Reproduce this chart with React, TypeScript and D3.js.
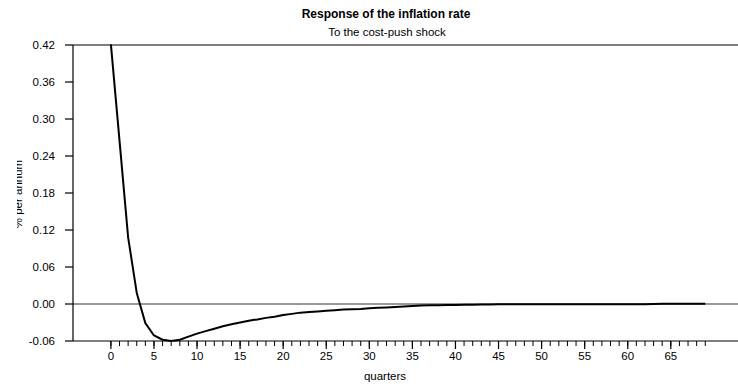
import React from "react";
import * as d3 from "d3";

// Impulse response of inflation to a cost-push shock (quarters 0..69)
const quarters: number[] = Array.from({ length: 70 }, (_, i) => i);
const response: number[] = [
  0.421, 0.265, 0.108, 0.018, -0.031, -0.051, -0.058, -0.06, -0.058, -0.053,
  -0.048, -0.044, -0.04, -0.036, -0.033, -0.03, -0.027, -0.025, -0.0225, -0.0205,
  -0.018, -0.016, -0.014, -0.013, -0.012, -0.011, -0.01, -0.009, -0.0085, -0.008,
  -0.007, -0.0062, -0.0055, -0.0048, -0.004, -0.0032, -0.0026, -0.0021, -0.0019, -0.0017,
  -0.0015, -0.0013, -0.0012, -0.001, -0.0009, -0.0006, -0.0005, -0.0005, -0.0005, -0.0005,
  -0.0005, -0.0005, -0.0005, -0.0005, -0.0005, -0.0005, -0.0005, -0.0005, -0.0005, -0.0005,
  -0.0005, -0.0005, -0.0004, 0.0002, 0.0003, 0.0003, 0.0003, 0.0003, 0.0003, 0.0003,
];
const yTicks: number[] = [0.42, 0.36, 0.3, 0.24, 0.18, 0.12, 0.06, 0.0, -0.06];
const xMajorTicks: number[] = d3.range(0, 70, 5);
const xMinorTicks: number[] = d3.range(0, 70, 1);

const title = "Response of the inflation rate";
const subtitle = "To the cost-push shock";
const xLabel = "quarters";
const yLabel = "% per annum";

const W = 738;
const H = 387;
const left = 73;
const right = 738;
const top = 45;
const bottom = 341;

export default function App() {
  const x = d3.scaleLinear().domain([-4.4, 72.8]).range([left, right]);
  const y = d3.scaleLinear().domain([-0.06, 0.42]).range([bottom, top]);
  const line = d3
    .line<number>()
    .x((_, i) => x(quarters[i]))
    .y((d) => y(d));
  const font = "'Liberation Sans', Arial, sans-serif";

  return (
    <svg
      width={W}
      height={H}
      style={{ position: "absolute", left: 0, top: 0, background: "#fff" }}
      fontFamily={font}
    >
      <defs>
        <clipPath id="plot">
          <rect x={left} y={top - 1} width={right - left} height={bottom - top + 2} />
        </clipPath>
        <clipPath id="ylab">
          <rect x={17} y={0} width={40} height={H} />
        </clipPath>
      </defs>
      <rect x={0} y={0} width={W} height={H} fill="#fff" />

      <text x={386} y={18} textAnchor="middle" fontSize={12} fontWeight="bold" fill="#000">
        {title}
      </text>
      <text x={387} y={36} textAnchor="middle" fontSize={11.5} fill="#000">
        {subtitle}
      </text>

      {/* zero reference line */}
      <line x1={left} x2={right} y1={y(0)} y2={y(0)} stroke="#777" strokeWidth={1.3} />

      {/* y axis */}
      <line x1={left} x2={left} y1={top} y2={bottom} stroke="#000" strokeWidth={1.2} />
      <line x1={left} x2={right} y1={top} y2={top} stroke="#000" strokeWidth={1.2} />
      {yTicks.map((t) => (
        <g key={t}>
          <line x1={left - 8} x2={left} y1={y(t)} y2={y(t)} stroke="#000" strokeWidth={1.2} />
          <text
            x={55}
            y={y(t)}
            dy="0.35em"
            textAnchor="end"
            fontSize={11.5}
            fill="#000"
          >
            {t.toFixed(2)}
          </text>
        </g>
      ))}

      {/* x axis */}
      <line x1={left} x2={right} y1={bottom} y2={bottom} stroke="#000" strokeWidth={1.2} />
      {xMinorTicks.map((t) => (
        <line
          key={"m" + t}
          x1={x(t)}
          x2={x(t)}
          y1={bottom}
          y2={bottom + 5}
          stroke="#000"
          strokeWidth={1}
        />
      ))}
      {xMajorTicks.map((t) => (
        <g key={t}>
          <line x1={x(t)} x2={x(t)} y1={bottom} y2={bottom + 8} stroke="#000" strokeWidth={1.2} />
          <text x={x(t)} y={360} textAnchor="middle" fontSize={11.5} fill="#000">
            {t}
          </text>
        </g>
      ))}
      <text x={385} y={380} textAnchor="middle" fontSize={11.5} fill="#000">
        {xLabel}
      </text>

      <g clipPath="url(#ylab)">
        <text
          transform={`translate(22,194) rotate(-90)`}
          textAnchor="middle"
          fontSize={11.5}
          fill="#000"
        >
          {yLabel}
        </text>
      </g>

      <path
        d={line(response) || ""}
        fill="none"
        stroke="#000"
        strokeWidth={2}
        strokeLinejoin="round"
        clipPath="url(#plot)"
      />
    </svg>
  );
}
